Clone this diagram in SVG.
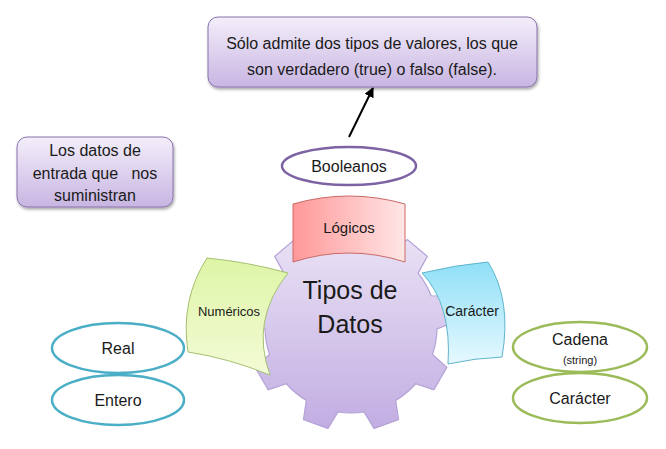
<svg xmlns="http://www.w3.org/2000/svg" width="666" height="449" viewBox="0 0 666 449">
<defs>
<linearGradient id="gBox" x1="0" y1="0" x2="0" y2="1"><stop offset="0" stop-color="#f3eefa"/><stop offset="1" stop-color="#c8b5e2"/></linearGradient>
<linearGradient id="gGear" x1="0" y1="0" x2="0" y2="1"><stop offset="0" stop-color="#ece5f6"/><stop offset="1" stop-color="#c2ade2"/></linearGradient>
<linearGradient id="gLog" x1="0" y1="0" x2="1" y2="0"><stop offset="0" stop-color="#ff9898"/><stop offset="1" stop-color="#ffe6e6"/></linearGradient>
<linearGradient id="gNum" x1="0" y1="0" x2="0" y2="1"><stop offset="0" stop-color="#def5a6"/><stop offset="1" stop-color="#f3fbd6"/></linearGradient>
<linearGradient id="gCar" x1="0" y1="0" x2="0" y2="1"><stop offset="0" stop-color="#8fdff7"/><stop offset="1" stop-color="#e6f9fe"/></linearGradient>
<filter id="sh" x="-10%" y="-10%" width="120%" height="130%"><feDropShadow dx="1" dy="2" stdDeviation="1.5" flood-color="#000" flood-opacity="0.35"/></filter>
<marker id="arr" viewBox="0 0 10 10" refX="9" refY="5" markerWidth="5" markerHeight="5" orient="auto"><path d="M0,0 L10,5 L0,10 Z" fill="#000"/></marker>
<style>
text{font-family:"Liberation Sans",Arial,sans-serif;fill:#1a1a1a;text-anchor:middle}
.box{fill:url(#gBox);stroke:#8a73ad;stroke-width:1;filter:url(#sh)}
.ell{fill:#fff;stroke-width:2.5}
.t16{font-size:16px}
</style>
</defs>

<g id="connectors">
<line x1="349" y1="137" x2="373" y2="88" stroke="#000" stroke-width="2" marker-end="url(#arr)"/>
</g>

<g id="note-top">
<rect class="box" x="208" y="17" width="329" height="70" rx="10"/>
<text class="t16" x="372" y="49">Sólo admite dos tipos de valores, los que</text>
<text class="t16" x="372" y="75">son verdadero (true) o falso (false).</text>
</g>

<g id="note-left">
<rect class="box" x="17" y="137" width="156" height="70" rx="10"/>
<text class="t16" x="95" y="156">Los datos de</text>
<text class="t16" x="95" y="179" style="white-space:pre">entrada que   nos</text>
<text class="t16" x="95" y="201">suministran</text>
</g>

<g id="booleanos">
<ellipse class="ell" cx="349" cy="166" rx="67" ry="19" stroke="#7d63a3"/>
<text class="t16" x="349" y="172">Booleanos</text>
</g>

<g id="gear">
<path fill="url(#gGear)" stroke="#b4a2d6" stroke-width="1.2" d="M432.46,354.57 L446.88,367.30 L433.84,389.88 L415.61,383.76 A86,86 0 0 1 395.69,400.49 L398.54,419.50 L374.04,428.41 L364.01,412.01 A86,86 0 0 1 337.99,412.01 L327.96,428.41 L303.46,419.50 L306.31,400.49 A86,86 0 0 1 286.39,383.76 L268.16,389.88 L255.12,367.30 L269.54,354.57 A86,86 0 0 1 265.03,328.95 L247.12,321.92 L251.65,296.25 L270.87,295.76 A86,86 0 0 1 283.89,273.23 L274.70,256.34 L294.66,239.58 L309.70,251.57 A86,86 0 0 1 334.15,242.67 L337.97,223.82 L364.03,223.82 L367.85,242.67 A86,86 0 0 1 392.30,251.57 L407.34,239.58 L427.30,256.34 L418.11,273.23 A86,86 0 0 1 431.13,295.76 L450.35,296.25 L454.88,321.92 L436.97,328.95 A86,86 0 0 1 432.46,354.57 Z"/>
</g>

<g id="logicos">
<path fill="url(#gLog)" stroke="#c96a68" stroke-width="1" d="M293,204 Q349,188 405,204 L405,262 Q349,244 293,262 Z"/>
<text x="349" y="233" style="font-size:15px">Lógicos</text>
</g>

<g id="numericos">
<path fill="url(#gNum)" stroke="#a5c070" stroke-width="1" d="M207,258 Q248,262 288,273 Q250,320 270,375 Q228,358 188,352 Q180,300 207,258 Z"/>
<text x="229" y="316" style="font-size:13px">Numéricos</text>
</g>

<g id="caracter-sector">
<path fill="url(#gCar)" stroke="#5fb4cc" stroke-width="1" d="M422,273 Q455,265 488,262 Q512,300 502,357 Q475,358 448,364 Q452,305 422,273 Z"/>
<text x="472" y="316" style="font-size:14px">Carácter</text>
</g>

<g id="center-label">
<text x="350" y="299" style="font-size:25px">Tipos de</text>
<text x="350" y="333" style="font-size:25px">Datos</text>
</g>

<g id="real">
<ellipse class="ell" cx="118" cy="348" rx="66" ry="25" stroke="#4aaec6"/>
<text class="t16" x="118" y="354">Real</text>
</g>
<g id="entero">
<ellipse class="ell" cx="118" cy="400" rx="66" ry="25" stroke="#4aaec6"/>
<text class="t16" x="118" y="406">Entero</text>
</g>
<g id="cadena">
<ellipse class="ell" cx="580" cy="347" rx="67" ry="25" stroke="#9bbb59"/>
<text class="t16" x="580" y="345">Cadena</text>
<text x="580" y="364" style="font-size:11px">(string)</text>
</g>
<g id="caracter">
<ellipse class="ell" cx="580" cy="398" rx="67" ry="25" stroke="#9bbb59"/>
<text class="t16" x="580" y="404">Carácter</text>
</g>
</svg>
